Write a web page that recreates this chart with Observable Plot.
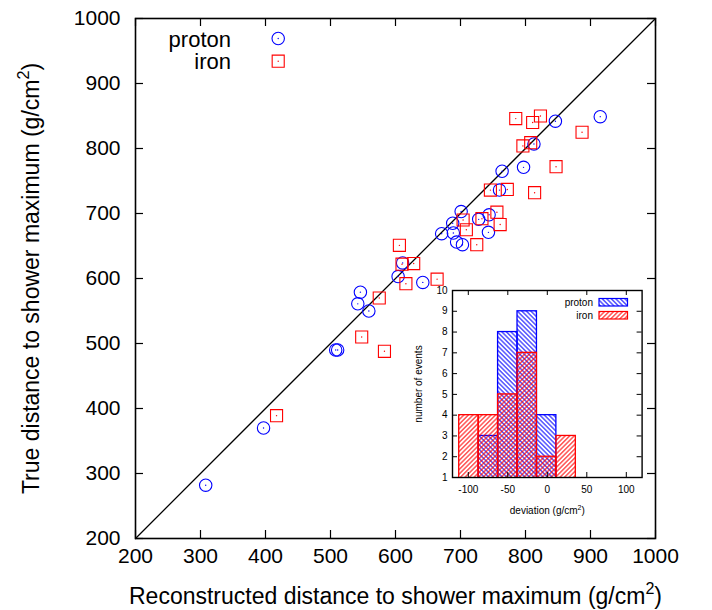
<!DOCTYPE html>
<html><head><meta charset="utf-8">
<script src="https://cdn.jsdelivr.net/npm/d3@7"></script>
<script src="https://cdn.jsdelivr.net/npm/@observablehq/plot@0.6"></script>
<style>
body{margin:0;background:#fff;font-family:"Liberation Sans",Arial,sans-serif}
#wrap{position:relative;width:712px;height:610px}
#inset{position:absolute;left:400px;top:282px}
#ilegend{position:absolute;left:560px;top:295px}
</style></head><body>
<svg width="0" height="0" style="position:absolute">
<defs>
<pattern id="hatchBlue" patternUnits="userSpaceOnUse" width="3.2" height="8" patternTransform="rotate(-45)"><line x1="1.6" y1="-1" x2="1.6" y2="9" stroke="blue" stroke-width="1"/></pattern>
<pattern id="hatchRed" patternUnits="userSpaceOnUse" width="3.2" height="8" patternTransform="rotate(45)"><line x1="1.6" y1="-1" x2="1.6" y2="9" stroke="red" stroke-width="1"/></pattern>
</defs></svg>
<div id="wrap">
<div id="main"></div>
<div id="inset"></div>
<svg id="ilegend" width="72" height="28" font-family="Liberation Sans, Arial, sans-serif" font-size="10">
<text x="33" y="10.5" text-anchor="end">proton</text>
<rect x="39" y="3.5" width="28.5" height="7.5" fill="url(#hatchBlue)" stroke="blue" stroke-width="1.2"/>
<text x="33" y="23.5" text-anchor="end">iron</text>
<rect x="39" y="16.5" width="28.5" height="7.5" fill="url(#hatchRed)" stroke="red" stroke-width="1.2"/>
</svg>
</div>
<script>
// ---- main scatter data ----
const axisTicks = [200, 300, 400, 500, 600, 700, 800, 900, 1000];
const diagonal = [200, 1000];
const protonReco = [308, 397, 508, 511, 542, 546, 559, 604, 611, 642, 671, 688, 689, 694, 703, 701, 728, 743, 744, 760, 764, 797, 813, 846, 915];
const protonTrue = [282, 370, 490, 490, 561, 579, 550, 603, 624, 594, 669, 685, 670, 656, 652, 703, 691, 671, 698, 736, 765, 771, 807, 842, 849];
const ironReco = [417, 548, 575, 583, 606, 610, 616, 628, 664, 704, 709, 725, 733, 746, 756, 761, 772, 785, 796, 808, 811, 814, 823, 847, 887];
const ironTrue = [389, 510, 570, 488, 651, 622, 592, 623, 599, 690, 675, 652, 692, 736, 702, 683, 737, 846, 804, 809, 840, 732, 850, 772, 825];
const seriesNames = ["proton", "iron"];
const xTitle = "Reconstructed distance to shower maximum (g/cm²)";
const yTitle = "True distance to shower maximum (g/cm²)";

// ---- inset histogram data ----
const binEdges = [-111.5, -86.9, -62.3, -37.7, -13.1, 11.5, 36.1];
const protonCounts = [0, 3, 8, 9, 4, 0];
const ironCounts = [4, 4, 5, 7, 2, 3];
const histBase = 0;
const insetXTicks = [-100, -50, 0, 50, 100];
const insetYTicks = [1, 2, 3, 4, 5, 6, 7, 8, 9, 10];
const insetXTitle = "deviation (g/cm²)";
const insetYTitle = "number of events";

const font = "Liberation Sans, Arial, sans-serif";
const proton = protonReco.map((r, i) => ({reco: r, tru: protonTrue[i]}));
const iron = ironReco.map((r, i) => ({reco: r, tru: ironTrue[i]}));

function sup(svg, fs) {
  d3.select(svg).selectAll("text").each(function() {
    const t = this.textContent;
    if (!t.includes("²")) return;
    const [a, b] = t.split("²");
    const s = 0.42 * fs;
    this.innerHTML = `${a}<tspan dy="${-s}" font-size="${0.7 * fs}">2</tspan><tspan dy="${s}">${b}</tspan>`;
  });
}

const fw = 520, fh = 520, tl = 8;
const main = Plot.plot({
  width: 712, height: 610,
  marginLeft: 135, marginRight: 57, marginTop: 18, marginBottom: 72,
  style: {fontFamily: font, fontSize: "21px", color: "black", background: "transparent"},
  x: {domain: [200, 1000], label: null},
  y: {domain: [200, 1000], label: null},
  marks: [
    Plot.line(diagonal, {x: d => d, y: d => d, stroke: "black", strokeWidth: 1.3}),
    Plot.dot(proton, {x: "reco", y: "tru", r: 6.2, stroke: "blue", strokeWidth: 1.1}),
    Plot.dot(proton, {x: "reco", y: "tru", r: 0.7, fill: "blue"}),
    Plot.dot(iron, {x: "reco", y: "tru", r: 6.8, symbol: "square", stroke: "red", strokeWidth: 1.1}),
    Plot.dot(iron, {x: "reco", y: "tru", r: 0.7, fill: "red"}),
    Plot.tickX(axisTicks, {x: d => d, insetTop: fh - tl, stroke: "black", strokeWidth: 1.2}),
    Plot.tickX(axisTicks, {x: d => d, insetBottom: fh - tl, stroke: "black", strokeWidth: 1.2}),
    Plot.tickY(axisTicks, {y: d => d, insetRight: fw - tl, stroke: "black", strokeWidth: 1.2}),
    Plot.tickY(axisTicks, {y: d => d, insetLeft: fw - tl, stroke: "black", strokeWidth: 1.2}),
    Plot.frame({stroke: "black", strokeWidth: 1.6}),
    Plot.axisX(axisTicks, {tickSize: 0, tickPadding: 10, tickFormat: d => String(d), fontSize: 21}),
    Plot.axisY(axisTicks, {tickSize: 0, tickPadding: 15, tickFormat: d => String(d), fontSize: 21}),
    Plot.text([xTitle], {frameAnchor: "bottom", dy: 58, textAnchor: "middle", lineAnchor: "middle", fontSize: 23}),
    Plot.text([yTitle], {frameAnchor: "left", dx: -104, rotate: -90, textAnchor: "middle", lineAnchor: "middle", fontSize: 23}),
    // legend
    Plot.text([seriesNames[0]], {frameAnchor: "top-left", dx: 95.5, dy: 28, textAnchor: "end", lineAnchor: "bottom", fontSize: 22}),
    Plot.text([seriesNames[1]], {frameAnchor: "top-left", dx: 95.5, dy: 50.5, textAnchor: "end", lineAnchor: "bottom", fontSize: 22}),
    Plot.dot([0], {frameAnchor: "top-left", dx: 142.7, dy: 20, r: 6.2, stroke: "blue", strokeWidth: 1.1}),
    Plot.dot([0], {frameAnchor: "top-left", dx: 142.7, dy: 20, r: 0.7, fill: "blue"}),
    Plot.dot([0], {frameAnchor: "top-left", dx: 142.7, dy: 42.7, r: 6.8, symbol: "square", stroke: "red", strokeWidth: 1.1}),
    Plot.dot([0], {frameAnchor: "top-left", dx: 142.7, dy: 42.7, r: 0.7, fill: "red"})
  ]
});
sup(main, 23);
document.getElementById("main").append(main);

// ---- inset ----
const pBins = protonCounts.map((c, i) => ({x1: binEdges[i], x2: binEdges[i + 1], c})).filter(d => d.c > 0);
const iBins = ironCounts.map((c, i) => ({x1: binEdges[i], x2: binEdges[i + 1], c})).filter(d => d.c > 0);
const iw = 250, ih = 240, iml = 52, imr = 8.4, imt = 8, imb = 45;
const ifw = iw - iml - imr, ifh = ih - imt - imb, itl = 5;
const inset = Plot.plot({
  width: iw, height: ih,
  marginLeft: iml, marginRight: imr, marginTop: imt, marginBottom: imb,
  style: {fontFamily: font, fontSize: "10px", color: "black", background: "transparent", overflow: "visible"},
  x: {domain: [-120, 120], label: null},
  y: {domain: [1, 10], label: null},
  marks: [
    Plot.rect(pBins, {x1: "x1", x2: "x2", y1: histBase, y2: "c", fill: "url(#hatchBlue)", stroke: "blue", strokeWidth: 1.3, clip: true}),
    Plot.rect(iBins, {x1: "x1", x2: "x2", y1: histBase, y2: "c", fill: "url(#hatchRed)", stroke: "red", strokeWidth: 1.3, clip: true}),
    Plot.tickX(insetXTicks, {x: d => d, insetTop: ifh - itl, stroke: "black"}),
    Plot.tickX(insetXTicks, {x: d => d, insetBottom: ifh - itl, stroke: "black"}),
    Plot.tickY(insetYTicks, {y: d => d, insetRight: ifw - itl, stroke: "black"}),
    Plot.tickY(insetYTicks, {y: d => d, insetLeft: ifw - itl, stroke: "black"}),
    Plot.frame({stroke: "black", strokeWidth: 1.4}),
    Plot.axisX(insetXTicks, {tickSize: 0, tickPadding: 8, tickFormat: d => String(d), fontSize: 10}),
    Plot.axisY(insetYTicks, {tickSize: 0, tickPadding: 5, tickFormat: d => String(d), fontSize: 10}),
    Plot.text([insetXTitle], {frameAnchor: "bottom", dy: 33, textAnchor: "middle", lineAnchor: "middle", fontSize: 10}),
    Plot.text([insetYTitle], {frameAnchor: "left", dx: -34, rotate: -90, textAnchor: "middle", lineAnchor: "middle", fontSize: 10})
  ]
});
sup(inset, 10);
document.getElementById("inset").append(inset);
</script>
</body></html>
